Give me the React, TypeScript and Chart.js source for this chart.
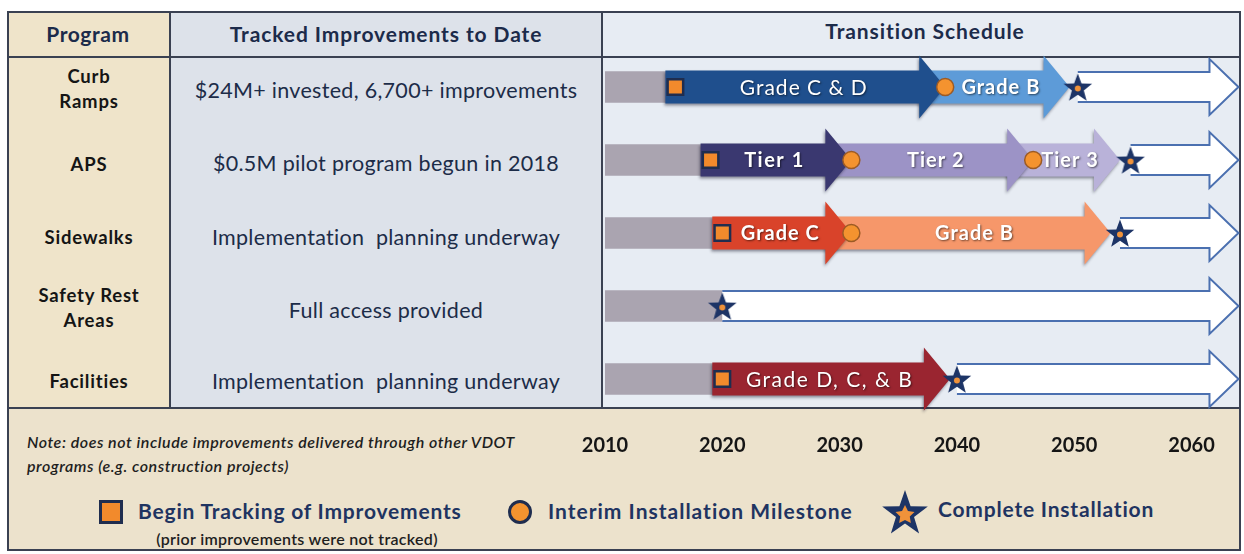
import React, { useEffect, useRef } from "react";
import { Chart, registerables } from "chart.js";
Chart.register(...registerables);

// ---------- data ----------
const programs = ["Curb Ramps", "APS", "Sidewalks", "Safety Rest Areas", "Facilities"];
const programLines = [["Curb", "Ramps"], ["APS"], ["Sidewalks"], ["Safety Rest", "Areas"], ["Facilities"]];
const trackedToDate = [
  "$24M+ invested, 6,700+ improvements",
  "$0.5M pilot program begun in 2018",
  "Implementation  planning underway",
  "Full access provided",
  "Implementation  planning underway",
];
const yearTicks = [2010, 2020, 2030, 2040, 2050, 2060];
const scheduleStart = 2010;
const scheduleEnd = 2064;
const untrackedEnd = [2016, 2019, 2020, 2020, 2020];
const beginTracking: (number | null)[] = [2016, 2019, 2020, null, 2020];
const interimRows = [0, 1, 1, 2];
const interimYears = [2039, 2031, 2046.5, 2031];
const completeInstall = [2050.3, 2054.8, 2053.9, 2020, 2040];
const segRows = [0, 0, 1, 1, 1, 2, 2, 4];
const segLabels = ["Grade C & D", "Grade B", "Tier 1", "Tier 2", "Tier 3", "Grade C", "Grade B", "Grade D, C, & B"];
const segStart = [2016, 2039, 2019, 2031, 2046.5, 2020, 2031, 2020];
const segEnd = [2039, 2049.6, 2031, 2046.5, 2053.9, 2031, 2053.1, 2039.4];

// ---------- styles ----------
const segColors = ["#1f4f8d", "#5d9bd8", "#3a3870", "#9c93c6", "#b9b2d9", "#d9432a", "#f6976a", "#9a2530"];
const FONT = 'Lato, "Open Sans", sans-serif';
const segFonts = [
  `400 21px ${FONT}`, `700 20px ${FONT}`, `700 20px ${FONT}`, `700 20px ${FONT}`,
  `700 20px ${FONT}`, `700 20px ${FONT}`, `700 20px ${FONT}`, `400 21px ${FONT}`,
];
const segSpacing = ["1px", "1px", "1.5px", "1px", "1px", "1px", "1px", "1.5px"];
const NAVY = "#1f2d4f";

function makeStar(outerR: number, innerR: number, centerR: number) {
  const c = document.createElement("canvas");
  const s = Math.ceil(outerR * 2 + 4);
  c.width = s;
  c.height = s;
  const ctx = c.getContext("2d")!;
  ctx.translate(s / 2, s / 2 + outerR * 0.1);
  ctx.beginPath();
  for (let i = 0; i < 10; i++) {
    const r = i % 2 === 0 ? outerR : innerR;
    const a = -Math.PI / 2 + (i * Math.PI) / 5;
    ctx.lineTo(r * Math.cos(a), r * Math.sin(a));
  }
  ctx.closePath();
  ctx.fillStyle = "#1d3466";
  ctx.fill();
  ctx.beginPath();
  ctx.arc(0, 0, centerR, 0, Math.PI * 2);
  ctx.fillStyle = "#f0923a";
  ctx.fill();
  return c;
}

const arrowPlugin = {
  id: "arrowShapes",
  afterDatasetDraw(chart: any, args: any) {
    const ds = chart.data.datasets[args.index];
    const kind = ds.arrowKind;
    if (!kind) return;
    const ctx = chart.ctx;
    args.meta.data.forEach((el: any, i: number) => {
      if (ds.data[i] == null) return;
      const p = el.getProps(["x", "y", "base", "height"], true);
      const tip = p.x;
      const y = p.y;
      const h = p.height;
      ctx.save();
      if (kind === "white") {
        const headLen = 29, headHalf = 28;
        const left = p.base;
        const hb = tip - headLen;
        ctx.beginPath();
        ctx.moveTo(left, y - h / 2);
        ctx.lineTo(hb, y - h / 2);
        ctx.lineTo(hb, y - headHalf);
        ctx.lineTo(tip, y);
        ctx.lineTo(hb, y + headHalf);
        ctx.lineTo(hb, y + h / 2);
        ctx.lineTo(left, y + h / 2);
        ctx.fillStyle = "#ffffff";
        ctx.fill();
        ctx.strokeStyle = "#4b70b0";
        ctx.lineWidth = 2;
        ctx.stroke();
      } else {
        const headLen = 26, headHalf = 31.5;
        const left = p.base - (ds.follows ? headLen : 10);
        const hb = tip - headLen;
        ctx.shadowColor = "rgba(20,20,40,0.45)";
        ctx.shadowBlur = 3;
        ctx.shadowOffsetY = 2;
        ctx.shadowOffsetX = -1;
        ctx.beginPath();
        ctx.moveTo(left, y - h / 2);
        ctx.lineTo(hb, y - h / 2);
        ctx.lineTo(hb, y - headHalf);
        ctx.lineTo(tip, y);
        ctx.lineTo(hb, y + headHalf);
        ctx.lineTo(hb, y + h / 2);
        ctx.lineTo(left, y + h / 2);
        ctx.closePath();
        ctx.fillStyle = ds.arrowColor;
        ctx.fill();
        ctx.shadowColor = "rgba(0,0,0,0.55)";
        ctx.shadowBlur = 2;
        ctx.shadowOffsetX = 1;
        ctx.shadowOffsetY = 1;
        ctx.fillStyle = "#ffffff";
        ctx.font = ds.labelFont;
        try { (ctx as any).letterSpacing = ds.labelSpacing; } catch (e) {}
        ctx.textAlign = "center";
        ctx.textBaseline = "middle";
        ctx.fillText(ds.label, (p.base + tip - headLen / 2) / 2, y + 1);
      }
      ctx.restore();
    });
  },
};

function rowData<T>(row: number, v: T): (T | null)[] {
  return programs.map((_, i) => (i === row ? v : null));
}

export default function App() {
  const ref = useRef<HTMLCanvasElement>(null);
  useEffect(() => {
    const star = makeStar(15, 6.3, 3);
    const segDatasets = segRows.map((row, k) => ({
      type: "bar",
      label: segLabels[k],
      data: rowData(row, [segStart[k], segEnd[k]]),
      backgroundColor: "rgba(0,0,0,0)",
      borderWidth: 0,
      barThickness: 33,
      grouped: false,
      arrowKind: "color",
      arrowColor: segColors[k],
      labelFont: segFonts[k],
      labelSpacing: segSpacing[k],
      follows: k > 0 && segRows[k - 1] === row,
      order: 3 + k,
    }));
    const chart = new Chart(ref.current!, {
      type: "bar",
      data: {
        labels: programs,
        datasets: [
          {
            type: "line",
            label: "Complete Installation",
            data: completeInstall.map((x, i) => ({ x, y: programs[i] })),
            showLine: false,
            pointStyle: star,
            order: 0,
          },
          {
            type: "line",
            label: "Interim Installation Milestone",
            data: interimYears.map((x, i) => ({ x, y: programs[interimRows[i]] })),
            showLine: false,
            pointStyle: "circle",
            pointRadius: 8.5,
            pointBackgroundColor: "#f4932f",
            pointBorderColor: "#9c5b25",
            pointBorderWidth: 1.5,
            order: 1,
          },
          {
            type: "line",
            label: "Begin Tracking of Improvements",
            data: beginTracking
              .map((x, i) => (x == null ? null : { x, y: programs[i] }))
              .filter((d) => d != null),
            showLine: false,
            pointStyle: "rect",
            pointRadius: 11,
            pointBackgroundColor: "#f28a2c",
            pointBorderColor: NAVY,
            pointBorderWidth: 2.5,
            order: 2,
          },
          ...segDatasets,
          {
            type: "bar",
            label: "Remaining",
            data: completeInstall.map((x) => [x, scheduleEnd]),
            backgroundColor: "rgba(0,0,0,0)",
            borderWidth: 0,
            barThickness: 30,
            grouped: false,
            arrowKind: "white",
            order: 30,
          },
          {
            type: "bar",
            label: "Not tracked",
            data: untrackedEnd.map((x) => [scheduleStart, x]),
            backgroundColor: "#aaa4b0",
            borderWidth: 0,
            barThickness: 31,
            grouped: false,
            order: 31,
          },
        ] as any,
      },
      options: {
        indexAxis: "y",
        responsive: true,
        maintainAspectRatio: false,
        animation: false,
        events: [],
        layout: { autoPadding: false, padding: { left: 605, right: 2, top: 50.5, bottom: 98.5 } },
        plugins: { legend: { display: false }, tooltip: { enabled: false } },
        scales: {
          y: { type: "category", offset: true, display: false },
          x: {
            type: "linear",
            min: scheduleStart,
            max: 2064.3,
            position: "bottom",
            grid: { display: false, drawTicks: false },
            border: { display: false },
            afterFit: (s: any) => {
              s.height = 40;
              s.paddingLeft = 0;
              s.paddingRight = 0;
            },
            afterBuildTicks: (s: any) => {
              s.ticks = yearTicks.map((v) => ({ value: v }));
            },
            ticks: {
              padding: 18,
              color: "#151515",
              font: { family: FONT, size: 20, weight: "bold" },
              callback: (v: any) => String(v),
            },
          },
        },
      } as any,
      plugins: [arrowPlugin],
    });
    return () => chart.destroy();
  }, []);

  const box = (l: number, t: number, w: number, h: number, bg: string): React.CSSProperties => ({
    position: "absolute", left: l, top: t, width: w, height: h, background: bg,
  });
  const centered = (x: number, y: number): React.CSSProperties => ({
    position: "absolute", left: x, top: y, transform: "translate(-50%,-50%)", whiteSpace: "pre", textAlign: "center",
  });
  const progY = [89, 164, 237, 308, 381];
  const trackY = [90, 163, 237, 310, 381];
  const legendText: React.CSSProperties = { position: "absolute", fontWeight: 700, fontSize: 21, letterSpacing: "0.8px", color: "#1f3461", whiteSpace: "pre" };

  return (
    <div style={{ position: "fixed", left: 0, top: 0, width: 1244, height: 554, overflow: "hidden", background: "#ffffff", fontFamily: FONT }}>
      <div style={box(7, 11, 163, 397, "#efe4ca")} />
      <div style={box(170, 11, 432, 397, "#dde2ea")} />
      <div style={box(602, 11, 639, 397, "#e7ecf3")} />
      <div style={box(7, 408, 1234, 143, "#ece2cc")} />
      {/* borders */}
      <div style={{ position: "absolute", left: 7, top: 11, width: 1234, height: 540, border: "2px solid #3a4152", boxSizing: "border-box" }} />
      <div style={box(7, 56, 1234, 2, "#3a4152")} />
      <div style={box(7, 407, 1234, 2, "#3a4152")} />
      <div style={box(169, 11, 2, 397, "#3a4152")} />
      <div style={box(601, 11, 2, 397, "#3a4152")} />
      {/* header */}
      <div style={{ ...centered(88, 33), fontWeight: 700, fontSize: 21, letterSpacing: "0.6px", color: "#1c2b4a" }}>Program</div>
      <div style={{ ...centered(386, 33), fontWeight: 700, fontSize: 21, letterSpacing: "0.9px", color: "#1c2b4a" }}>Tracked Improvements to Date</div>
      <div style={{ ...centered(925, 30), fontWeight: 700, fontSize: 21, letterSpacing: "0.9px", color: "#1c2b4a" }}>Transition Schedule</div>
      {programLines.map((lines, i) => (
        <div key={"p" + i} style={{ ...centered(89, progY[i]), fontWeight: 700, fontSize: 18.5, letterSpacing: "0.8px", lineHeight: "25px", color: "#151515" }}>
          {lines.join("\n")}
        </div>
      ))}
      {trackedToDate.map((t, i) => (
        <div key={"t" + i} style={{ ...centered(386, trackY[i]), fontSize: 21.5, letterSpacing: "0.3px", color: "#1c2c48" }}>{t}</div>
      ))}
      {/* footer note */}
      <div style={{ position: "absolute", left: 27, top: 430, fontStyle: "italic", fontWeight: 600, fontSize: 16, letterSpacing: "0.55px", lineHeight: "24px", color: "#1e1e1e", whiteSpace: "pre" }}>
        {"Note: does not include improvements delivered through other VDOT\nprograms (e.g. construction projects)"}
      </div>
      {/* legend */}
      <div style={{ ...box(99, 500, 24, 24, "#f28a2c"), border: `3px solid ${NAVY}`, boxSizing: "border-box" }} />
      <div style={{ ...legendText, left: 138, top: 498 }}>Begin Tracking of Improvements</div>
      <div style={{ ...centered(297, 538), fontWeight: 600, fontSize: 16, letterSpacing: "0.3px", color: "#1e1e1e" }}>(prior improvements were not tracked)</div>
      <div style={{ position: "absolute", left: 508, top: 500, width: 24, height: 24, borderRadius: 12, background: "#f4932f", border: `3px solid ${NAVY}`, boxSizing: "border-box" }} />
      <div style={{ ...legendText, left: 548, top: 498, letterSpacing: "1px" }}>Interim Installation Milestone</div>
      <svg style={{ position: "absolute", left: 881, top: 487 }} width={48} height={50} viewBox="-24 -25 48 50">
        <polygon
          points={Array.from({ length: 10 }, (_, i) => {
            const r = i % 2 === 0 ? 24 : 9.5;
            const a = -Math.PI / 2 + (i * Math.PI) / 5;
            return `${(r * Math.cos(a)).toFixed(2)},${(r * Math.sin(a) + 2).toFixed(2)}`;
          }).join(" ")}
          fill="#1d3466"
        />
        <polygon
          points={Array.from({ length: 10 }, (_, i) => {
            const r = i % 2 === 0 ? 10 : 5;
            const a = -Math.PI / 2 + (i * Math.PI) / 5;
            return `${(r * Math.cos(a)).toFixed(2)},${(r * Math.sin(a) + 3).toFixed(2)}`;
          }).join(" ")}
          fill="#f0923a"
        />
      </svg>
      <div style={{ ...legendText, left: 938, top: 496 }}>Complete Installation</div>
      {/* chart overlay */}
      <div style={{ position: "absolute", left: 0, top: 0, width: 1244, height: 554 }}>
        <canvas ref={ref} />
      </div>
    </div>
  );
}
